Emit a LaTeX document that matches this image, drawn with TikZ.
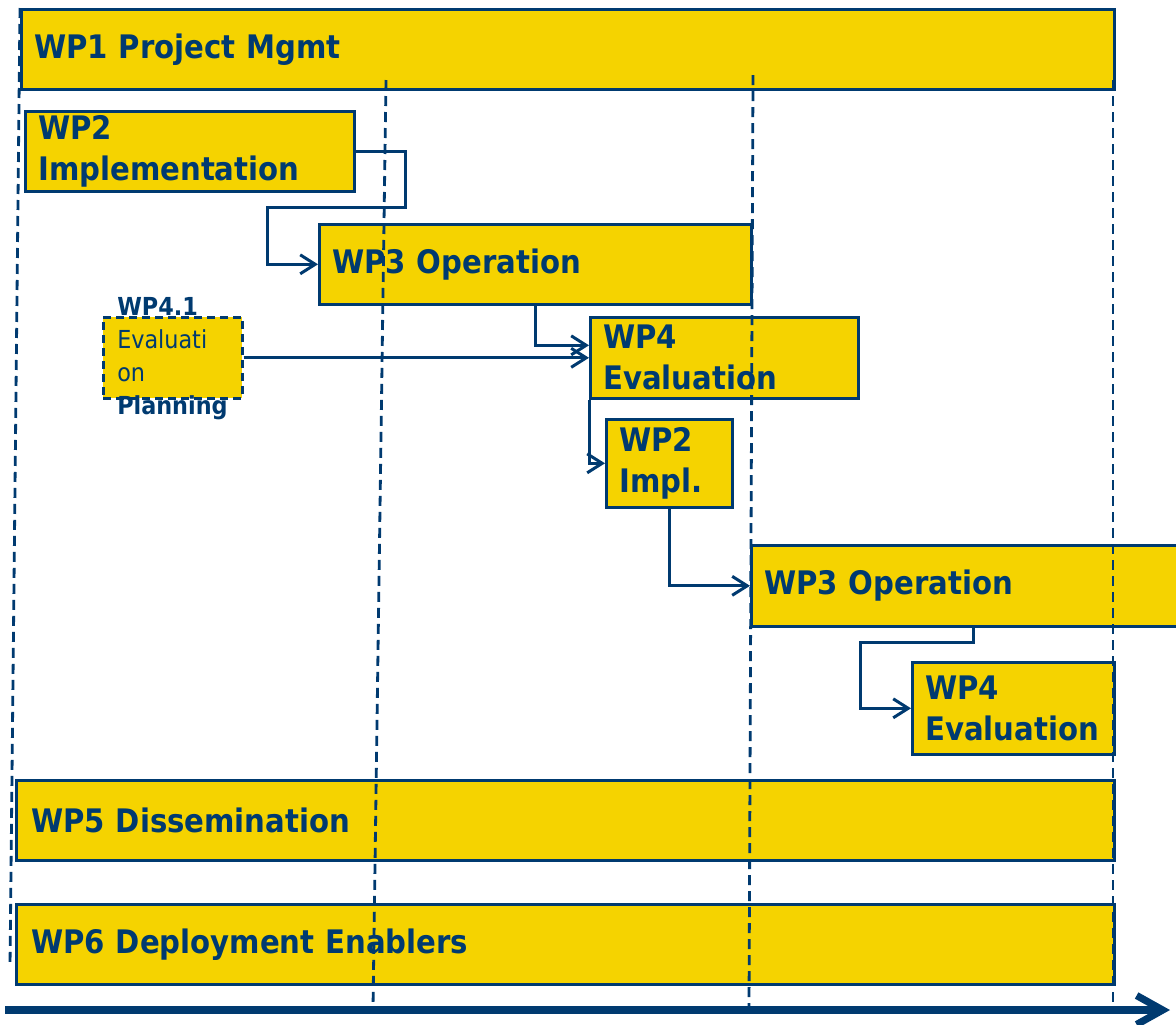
\documentclass[tikz,border=0pt]{standalone}
\usepackage{fontspec}
\setmainfont{DejaVu Sans Condensed}
\usetikzlibrary{arrows.meta}
\definecolor{wpyellow}{HTML}{F5D300}
\definecolor{wpblue}{HTML}{003A70}
\begin{document}
\begin{tikzpicture}[x=0.5pt,y=-0.5pt,
  wp/.style={rectangle, draw=wpblue, line width=1.3pt, fill=wpyellow, anchor=north west,
    inner xsep=6.5pt, inner ysep=0pt, align=left, text=wpblue,
    font=\bfseries\fontsize{16.2}{20.5}\selectfont, execute at begin node={\hyphenpenalty=10000 }},
  conn/.style={draw=wpblue, line width=1.5pt, -{Straight Barb[length=7.5pt,width=9.5pt,line width=1.5pt]}},
  grid/.style={draw=wpblue, line width=1.4pt, dash pattern=on 5pt off 3pt},
  axis/.style={draw=wpblue, line width=3.6pt, -{Straight Barb[length=13pt,width=14.5pt,line width=3.6pt]}}
]
\useasboundingbox (0,0) rectangle (1176,1024);

% work package boxes
\node[wp, minimum width=546.5pt, minimum height=40pt, text width=533.5pt] (wp1) at (20,8) {WP1 Project Mgmt};
\node[wp, minimum width=164.5pt, minimum height=40pt, text width=151.5pt] (wp2) at (24,110) {WP2\\Implementation};
\node[wp, minimum width=216pt, minimum height=40pt, text width=203pt] (wp3a) at (318,223) {WP3 Operation};
\node[wp, dash pattern=on 4pt off 2.5pt, minimum width=69.5pt, minimum height=40.5pt, text width=55.5pt, inner xsep=7pt,
      font=\fontsize{12.4}{16.5}\selectfont] (wp41) at (102,316)
  {\smash{\raisebox{-3.5pt}{\begin{tabular}[c]{@{}l@{}}\bfseries WP4.1\\
   \mdseries Evaluati\\ \mdseries on\\ \bfseries Planning\end{tabular}}}};
\node[wp, minimum width=134pt, minimum height=40.5pt, text width=121pt] (wp4a) at (589,316) {WP4\\Evaluation};
\node[wp, minimum width=63pt, minimum height=44pt, text width=50pt] (wp2b) at (605,418) {WP2\\Impl.};
\node[wp, minimum width=215pt, minimum height=40.5pt, text width=202pt] (wp3b) at (750,544) {WP3 Operation};
\node[wp, minimum width=101pt, minimum height=46pt, text width=88pt] (wp4b) at (911,661) {WP4\\Evaluation};
\node[wp, minimum width=549pt, minimum height=40pt, text width=534pt, inner xsep=7.5pt] (wp5) at (15,779) {WP5 Dissemination};
\node[wp, minimum width=549pt, minimum height=40pt, text width=534pt, inner xsep=7.5pt] (wp6) at (15,903) {WP6 Deployment Enablers};

% connectors
\draw[conn] (wp2.east) -| (405,207) -- (267,207) |- (wp3a.west);
\draw[conn] (wp3a.south) |- ([yshift=6.25pt]wp4a.west);
\draw[conn] (wp41.east) -- (wp4a.west);
\draw[conn] (wp4a.south west) |- (wp2b.west);
\draw[conn] (wp2b.south) |- (wp3b.west);
\draw[conn] ([xshift=3.5pt]wp3b.south) |- (860,642) |- (wp4b.west);

% time grid
\coordinate (g1a) at (20,8);    \coordinate (g1b) at (10,967);
\coordinate (g2a) at (386,80);  \coordinate (g2b) at (373,1008);
\coordinate (g3a) at (753,75);  \coordinate (g3b) at (749,1008);
\coordinate (g4a) at (1113,80); \coordinate (g4b) at (1113,1008);
\draw[grid] (g1a) -- (g1b);
\draw[grid] (g2a) -- (g2b);
\draw[grid] (g3a) -- (g3b);
\draw[grid] (g4a) -- (g4b);

% time axis
\coordinate (t0) at (5,1010);
\coordinate (t1) at (1170,1010);
\draw[axis] (t0) -- (t1);
\end{tikzpicture}
\end{document}
